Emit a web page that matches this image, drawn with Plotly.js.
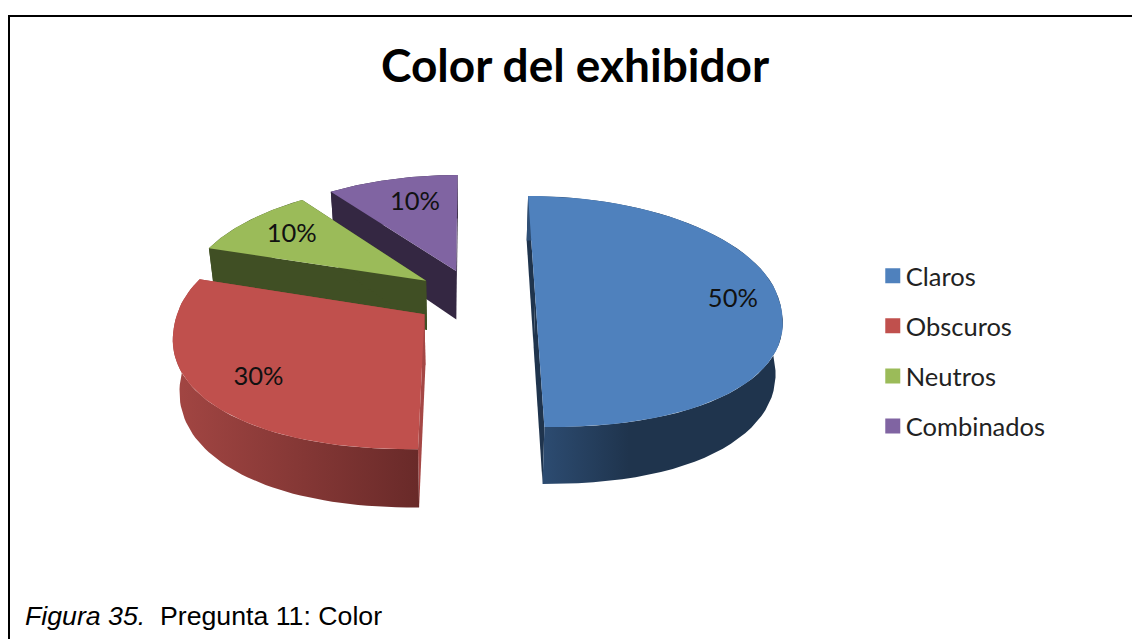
<!DOCTYPE html>
<html>
<head>
<meta charset="utf-8">
<script src="https://cdn.plot.ly/plotly-3.0.1.min.js"></script>
<style>html,body{margin:0;padding:0;background:#fff}#chart{width:1132px;height:639px}</style>
</head>
<body>
<div id="chart"></div>
<script>
const categories = ['Claros', 'Obscuros', 'Neutros', 'Combinados'];
const shares = [50, 30, 10, 10];
const topColors = ['#4F81BD', '#C0504D', '#9BBB59', '#8064A2'];
const edgeColors = ['#1F344D', '#A54745', '#404F24', '#342742'];
const rimScales = [
  [[0, '#2F5078'], [0.4, '#1F344D'], [1, '#1F344D']],
  [[0, '#A34643'], [1, '#692A29']],
  [[0, '#404F24'], [1, '#404F24']],
  [[0, '#342742'], [1, '#342742']]
];
const labelReach = [0.81, 0.80, 0.745, 0.705];
const labelAcross = [-0.025, 0.053, 0, -0.026];

// Pie seen from above in perspective: unit disc -> chart units.
const view = {
  vx: 470, x0: 474.5, a: 243, cy: 297.3, b: 113.8, p: 0.123,
  depth: 50, explode: 0.25, frontBulge: 0.9, floorX: 465, floorShrink: 0.023
};

function project(X, Y, drop) {
  const s = 1 / (1 + view.p * Y);
  const x = view.vx + (view.x0 + view.a * X - view.vx) * s;
  // The lower face of the disc sits further away, so it draws slightly narrower.
  return [view.floorX + (x - view.floorX) * (1 - view.floorShrink * drop),
          view.cy - view.b * Y * s + drop * view.depth * s];
}

// Rim of a slice at angle t, measured clockwise from the back of the disc.
function rimOffset(t) {
  const sn = Math.sin(t), cs = Math.cos(t);
  if (cs >= 0) return [sn, cs];
  return [Math.sign(sn) * Math.pow(Math.abs(sn), view.frontBulge),
          -Math.pow(-cs, view.frontBulge)];
}

const total = shares.reduce((a, b) => a + b, 0);
const toRad = t => t / total * 2 * Math.PI;
let running = 0;
const slices = shares.map((v, i) => {
  const from = running; running += v;
  const mid = toRad(from + v / 2);
  return {i, v, from: toRad(from), to: toRad(running), mid,
          cx: view.explode * Math.sin(mid), cy: view.explode * Math.cos(mid)};
});

function path(pts) {
  return {x: pts.map(p => p[0]), y: pts.map(p => p[1])};
}

function arc(sl, drop, reverse) {
  const n = 60, pts = [];
  for (let k = 0; k <= n; k++) {
    const t = sl.from + (sl.to - sl.from) * k / n;
    const r = rimOffset(t);
    pts.push(project(sl.cx + r[0], sl.cy + r[1], drop));
  }
  return reverse ? pts.reverse() : pts;
}

function face(pts, extra) {
  const d = path(pts);
  return Object.assign({
    x: d.x, y: d.y, type: 'scatter', mode: 'lines', fill: 'toself',
    line: {width: 0}, hoverinfo: 'skip', showlegend: false
  }, extra);
}

function radial(sl, t) {
  const r = rimOffset(t);
  const rim = (drop) => project(sl.cx + r[0], sl.cy + r[1], drop);
  const hub = (drop) => project(sl.cx, sl.cy, drop);
  return [hub(0), rim(0), rim(1), hub(1)];
}

const traces = [];
// Painted from the farthest slice to the nearest.
[3, 2, 1, 0].forEach(idx => {
  const sl = slices[idx];
  traces.push(face(radial(sl, sl.from), {fillcolor: edgeColors[idx]}));
  traces.push(face(radial(sl, sl.to), {fillcolor: edgeColors[idx]}));
  traces.push(face(arc(sl, 0).concat(arc(sl, 1, true)), {
    fillcolor: edgeColors[idx],
    fillgradient: {type: 'horizontal', colorscale: rimScales[idx]}
  }));
  const hub = project(sl.cx, sl.cy, 0);
  traces.push(face([hub].concat(arc(sl, 0)), {fillcolor: topColors[idx]}));
});

// Percentage labels sitting on the top faces.
const labelPts = slices.map(sl => {
  const r = labelReach[sl.i], c = labelAcross[sl.i];
  return project(
    sl.cx + r * Math.sin(sl.mid) - c * Math.cos(sl.mid),
    sl.cy + r * Math.cos(sl.mid) + c * Math.sin(sl.mid), 0);
});
traces.push({
  x: labelPts.map(p => p[0]), y: labelPts.map(p => p[1]),
  text: shares.map(v => v + '%'), type: 'scatter', mode: 'text',
  textposition: 'middle center',
  textfont: {family: 'Lato, sans-serif', size: 25.5, color: '#111'},
  hoverinfo: 'skip', showlegend: false
});

// Legend entries.
categories.forEach((name, i) => {
  traces.push({
    x: [null], y: [null], name, type: 'scatter', mode: 'markers',
    legendgroup: name,
    marker: {symbol: 'square', size: 15, color: topColors[i]}, hoverinfo: 'skip'
  });
});

const layout = {
  width: 1132, height: 639,
  margin: {l: 0, r: 0, t: 0, b: 0},
  paper_bgcolor: '#fff', plot_bgcolor: '#fff',
  title: {
    text: '<b>Color del exhibidor</b>',
    font: {family: 'Lato, sans-serif', size: 46, color: '#000'},
    x: 0.508, xanchor: 'center', y: 0.897, yanchor: 'middle'
  },
  xaxis: {range: [0, 1132], visible: false, fixedrange: true},
  yaxis: {range: [639, 0], visible: false, fixedrange: true},
  legend: {
    x: 0.771, y: 0.6047, xanchor: 'left', yanchor: 'top',
    traceorder: 'grouped', tracegroupgap: 14,
    font: {family: 'Lato, sans-serif', size: 25.5, color: '#222'},
    bgcolor: 'rgba(0,0,0,0)'
  },
  shapes: [
    {type: 'line', xref: 'x', yref: 'y', x0: 8, x1: 1132, y0: 16, y1: 16, line: {color: '#000', width: 2}},
    {type: 'line', xref: 'x', yref: 'y', x0: 9, x1: 9, y0: 15, y1: 639, line: {color: '#000', width: 2}}
  ],
  annotations: [{
    xref: 'x', yref: 'y', x: 23, y: 616, xanchor: 'left', yanchor: 'middle', showarrow: false,
    text: '<i>Figura 35.</i>\u00A0 Pregunta 11: Color',
    font: {family: '"Liberation Sans", Arial, sans-serif', size: 26.7, color: '#000'}
  }]
};

Plotly.newPlot('chart', traces, layout, {displayModeBar: false, staticPlot: true}).then(() => {
  // Tighten the gap between each legend swatch and its name.
  document.querySelectorAll('.legendtext').forEach(t => {
    t.setAttribute('x', parseFloat(t.getAttribute('x')) - 7);
  });
});
</script>
</body>
</html>
